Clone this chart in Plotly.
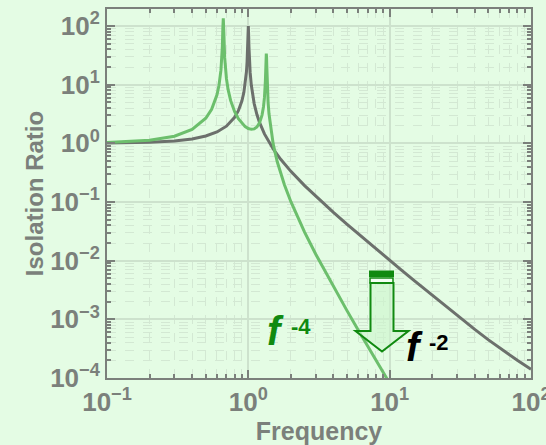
import plotly.graph_objects as go

# Single-stage isolator (gray)
freq_single = [0.1, 0.2, 0.3, 0.4, 0.5, 0.6, 0.7, 0.8, 0.85, 0.9, 0.93, 0.95, 0.97,
               0.98, 0.99, 0.995, 1.0, 1.005, 1.01, 1.02, 1.03, 1.05, 1.07, 1.1, 1.15,
               1.2, 1.3, 1.5, 1.7, 2, 2.5, 3, 4, 5, 6, 7, 8, 10, 12, 15, 20, 25, 30,
               40, 50, 60, 70, 80, 100]
ratio_single = [1.010, 1.042, 1.099, 1.190, 1.333, 1.563, 1.961, 2.778, 3.604, 5.263,
                7.40, 10.25, 16.7, 24.5, 45.0, 71.0, 100.0, 70.4, 44.5, 24.0, 16.2,
                9.75, 6.90, 4.76, 3.10, 2.27, 1.449, 0.80, 0.529, 0.333, 0.1905,
                0.125, 0.0667, 0.0417, 0.0286, 0.02085, 0.01592, 0.01015, 0.00704,
                0.004514, 0.002556, 0.001652, 0.001161, 0.000674, 0.000447,
                0.000324, 0.000249, 0.0002001, 0.0001414]

# Two-stage isolator (green)
freq_double = [0.1, 0.2, 0.3, 0.4, 0.5, 0.55, 0.6, 0.62, 0.64, 0.65, 0.655, 0.66,
               0.665, 0.67, 0.675, 0.68, 0.7, 0.72, 0.75, 0.8, 0.85, 0.9, 0.95, 1.0,
               1.05, 1.1, 1.15, 1.2, 1.25, 1.28, 1.3, 1.32, 1.33, 1.335, 1.34, 1.345,
               1.35, 1.36, 1.38, 1.4, 1.45, 1.5, 1.6, 1.8, 2, 2.5, 3, 4, 5, 6, 7, 8,
               9, 10]
ratio_double = [1.029, 1.125, 1.322, 1.721, 2.674, 3.81, 6.74, 9.77, 17.7, 29.6, 44.7,
                91.0, 135.0, 85.0, 43.5, 29.2, 12.66, 8.13, 5.34, 3.47, 2.64, 2.19,
                1.929, 1.787, 1.733, 1.764, 1.90, 2.23, 3.03, 4.21, 6.0, 11.4, 22.0,
                30.0, 34.0, 30.0, 21.8, 10.5, 5.0, 3.19, 1.56, 0.967, 0.4905, 0.1965,
                0.1012, 0.0307, 0.01288, 0.003592, 0.001393, 0.000653, 0.0003464,
                0.0002008, 0.0001244, 0.0000812]

x_tickvals = [0.1, 1, 10, 100]
x_ticktext = ["10<sup>\u22121</sup>", "10<sup>0</sup>", "10<sup>1</sup>", "10<sup>2</sup>"]
y_tickvals = [1e-4, 1e-3, 1e-2, 1e-1, 1, 10, 100]
y_ticktext = ["10<sup>\u22124</sup>", "10<sup>\u22123</sup>", "10<sup>\u22122</sup>",
              "10<sup>\u22121</sup>", "10<sup>0</sup>", "10<sup>1</sup>", "10<sup>2</sup>"]

# minor ticks: 2..9 within every decade
x_minor = [m * 10.0 ** e for e in (-1, 0, 1) for m in range(2, 10)]
y_minor = [m * 10.0 ** e for e in (-4, -3, -2, -1, 0, 1, 2) for m in range(2, 10)]

BG = "#e4fce4"
AXIS = "#7b807b"
GRAY = "#6c706c"
GREEN = "#6cbf6c"
DARK_GREEN = "#108a10"
FONT = "Liberation Sans"

fig = go.Figure()
fig.add_trace(go.Scatter(x=freq_single, y=ratio_single, mode="lines",
                         line=dict(color=GRAY, width=3), showlegend=False))
fig.add_trace(go.Scatter(x=freq_double, y=ratio_double, mode="lines",
                         line=dict(color=GREEN, width=3), showlegend=False))

L, R, T, B = 107, 15, 9, 67
W, H = 546, 445
pw, ph = W - L - R, H - T - B


def px(x):
    return (x - L) / pw


def py(y):
    return (H - B - y) / ph


def axis_style(minor_vals):
    return dict(
        type="log", showline=True, linecolor=AXIS, linewidth=2, mirror="allticks",
        ticks="inside", ticklen=8, tickcolor=AXIS, tickwidth=1.5,
        showgrid=True, gridcolor="#cde2cd", gridwidth=1.5, zeroline=False,
        tickfont=dict(family=FONT, size=26, color=AXIS, weight="bold"),
        ticklabeloverflow="allow", automargin=False,
        minor=dict(tickvals=minor_vals, ticks="inside", ticklen=4, tickcolor=AXIS,
                   showgrid=True, gridcolor="#d3e8d3", griddash="dash", gridwidth=1),
    )


fig.update_xaxes(range=[-1, 2], tickvals=x_tickvals, ticktext=x_ticktext,
                 title=dict(text="Frequency", standoff=0,
                            font=dict(family=FONT, size=25, color=AXIS, weight="bold")),
                 **axis_style(x_minor))
fig.update_yaxes(range=[-4, 2.29], tickvals=y_tickvals, ticktext=y_ticktext,
                 title=dict(text="Isolation Ratio", standoff=0,
                            font=dict(family=FONT, size=24, color=AXIS, weight="bold")),
                 **axis_style(y_minor))

# Downward arrow marking the roll-off improvement
shapes = []
shapes.append(dict(type="rect", xref="paper", yref="paper",
                   x0=px(369), x1=px(394), y0=py(277), y1=py(270.5),
                   fillcolor=DARK_GREEN, line=dict(width=0)))
shapes.append(dict(type="rect", xref="paper", yref="paper",
                   x0=px(370), x1=px(393), y0=py(283), y1=py(278),
                   fillcolor="#f4fff4", line=dict(color=DARK_GREEN, width=1.5)))
arrow_pts = [(370.5, 283), (393.5, 283), (393.5, 331), (408.5, 331), (382, 351.5),
             (355.5, 331), (370.5, 331)]
path = "M " + " L ".join(f"{px(a):.5f},{py(b):.5f}" for a, b in arrow_pts) + " Z"
shapes.append(dict(type="path", xref="paper", yref="paper", path=path,
                   fillcolor="rgba(205,245,205,0.6)", line=dict(color=DARK_GREEN, width=2)))

annotations = [
    dict(text="<b><i>f</i></b>", x=px(275), y=py(355), xref="paper", yref="paper",
         showarrow=False, font=dict(family=FONT, size=40, color=DARK_GREEN)),
    dict(text="<b>-4</b>", x=px(301), y=py(341), xref="paper", yref="paper",
         showarrow=False, font=dict(family=FONT, size=22, color=DARK_GREEN)),
    dict(text="<b><i>f</i></b>", x=px(425), y=py(371), xref="paper", yref="paper",
         showarrow=False, font=dict(family=FONT, size=40, color="black")),
    dict(text="<b>-2</b>", x=px(451), y=py(357), xref="paper", yref="paper",
         showarrow=False, font=dict(family=FONT, size=22, color="black")),
]

fig.update_layout(
    width=W, height=H, margin=dict(l=L, r=R, t=T, b=B),
    paper_bgcolor=BG, plot_bgcolor=BG,
    shapes=shapes, annotations=annotations,
)

fig.write_html("out.html")
